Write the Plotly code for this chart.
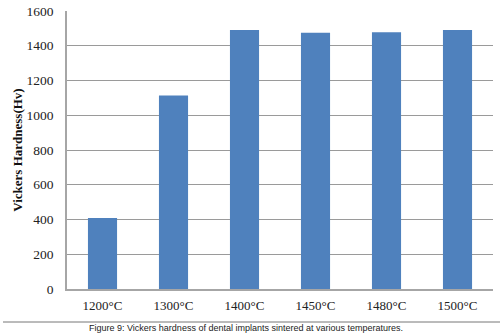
import plotly.graph_objects as go

categories = ["1200°C", "1300°C", "1400°C", "1450°C", "1480°C", "1500°C"]
hardness = [408, 1114, 1490, 1475, 1477, 1490]
y_ticks = [0, 200, 400, 600, 800, 1000, 1200, 1400, 1600]

W, H = 500, 335
L, R, T, B = 67, 7, 11, 46
pw = W - L - R
ph = H - T - B

fig = go.Figure()
fig.add_trace(go.Bar(
    x=categories, y=hardness,
    marker=dict(color="#4F81BD", line=dict(width=0)),
    width=0.41,
))

def px_x(px):
    return (px - L) / pw

def px_y(py):
    return (H - B - py) / ph

fig.update_layout(
    width=W, height=H,
    margin=dict(l=L, r=R, t=T, b=B, autoexpand=False),
    paper_bgcolor="white", plot_bgcolor="white",
    showlegend=False,
    font=dict(family="Liberation Serif", size=13, color="#222222"),
    xaxis=dict(
        automargin=False,
        showline=True, linecolor="#A6A6A6", linewidth=1.5,
        showgrid=False, ticks="", ticklabelstandoff=4,
        tickfont=dict(family="Liberation Serif", size=13, color="#222222"),
    ),
    yaxis=dict(
        automargin=False,
        range=[0, 1600], tickvals=y_ticks,
        showline=True, linecolor="#A6A6A6", linewidth=1.5,
        showgrid=True, gridcolor="#9A9A9A", gridwidth=1,
        zeroline=False, ticks="", ticklabelstandoff=9,
        tickfont=dict(family="Liberation Serif", size=13.5, color="#222222"),
        title=dict(text="<b>Vickers Hardness(Hv)</b>", standoff=1,
                   font=dict(family="Liberation Serif", size=13, color="#111111")),
    ),
    shapes=[dict(type="line", xref="paper", yref="paper",
                 x0=px_x(3), x1=px_x(500), y0=px_y(322), y1=px_y(322),
                 line=dict(color="#777777", width=1))],
    annotations=[dict(text="Figure 9: Vickers hardness of dental implants sintered at various temperatures.",
                      xref="paper", yref="paper", x=px_x(246), y=px_y(328),
                      xanchor="center", yanchor="middle", showarrow=False,
                      font=dict(family="Liberation Sans", size=9, color="#222222"))],
)

fig.write_html("out.html", config={"displayModeBar": False},
               post_script="document.body.style.margin='0';document.body.style.overflow='hidden';")
